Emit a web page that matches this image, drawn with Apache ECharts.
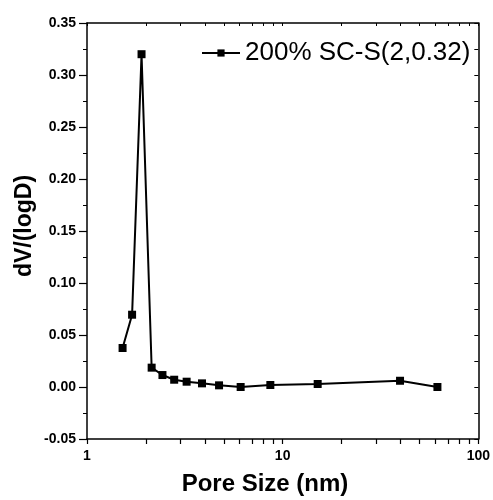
<!DOCTYPE html>
<html>
<head>
<meta charset="utf-8">
<script src="https://cdn.jsdelivr.net/npm/echarts@6/dist/echarts.min.js"></script>
<style>html,body{margin:0;padding:0;background:#fff}#c{width:493px;height:500px}</style>
</head>
<body>
<div id="c"></div>
<script>
var seriesName = '200% SC-S(2,0.32)';
var poreSize = [1.52, 1.70, 1.90, 2.14, 2.43, 2.79, 3.23, 3.87, 4.73, 6.1, 8.65, 15.1, 39.8, 61.8];
var dVlogD = [0.0375, 0.0695, 0.320, 0.0186, 0.0115, 0.0070, 0.0051, 0.0035, 0.0016, 0.0, 0.0019, 0.0029, 0.0060, 0.0];
var xAllTicks = [1, 2, 3, 4, 5, 6, 7, 8, 9, 10, 20, 30, 40, 50, 60, 70, 80, 90, 100];
var xTitle = 'Pore Size (nm)';
var yTitle = 'dV/(logD)';

var FONT = '"Liberation Sans", Arial, sans-serif';
var chart = echarts.init(document.getElementById('c'), null, {renderer: 'canvas'});
var lineCol = '#000';
function axLine() { return {show: true, onZero: false, lineStyle: {color: lineCol, width: 1.5}}; }

chart.setOption({
  animation: false,
  backgroundColor: '#fff',
  grid: {left: 87, top: 23, right: 11, bottom: 61, containLabel: false},
  legend: {
    show: true, left: 201, top: 40, padding: 0,
    itemWidth: 38, itemHeight: 9, itemGap: 5,
    textStyle: {fontFamily: FONT, fontSize: 26, color: '#000'},
    data: [seriesName]
  },
  xAxis: [
    {
      type: 'log', logBase: 10, min: 1, max: 100, position: 'bottom',
      axisLine: axLine(),
      axisTick: {show: true, inside: false, length: 5, customValues: xAllTicks, lineStyle: {color: lineCol, width: 1.2}},
      minorTick: {show: false},
      splitLine: {show: false},
      axisLabel: {show: true, margin: 10, fontFamily: FONT, fontWeight: 'bold', fontSize: 14, color: '#000'}
    },
    {
      type: 'log', logBase: 10, min: 1, max: 100, position: 'top',
      axisLine: axLine(),
      axisTick: {show: true, inside: true, length: 3, customValues: xAllTicks, lineStyle: {color: lineCol, width: 1}},
      splitLine: {show: false},
      axisLabel: {show: false}
    }
  ],
  yAxis: [
    {
      type: 'value', min: -0.05, max: 0.35, interval: 0.05, position: 'left',
      axisLine: axLine(),
      axisTick: {show: true, inside: false, length: 8, lineStyle: {color: lineCol, width: 1.2}},
      minorTick: {show: true, splitNumber: 2, length: 4, lineStyle: {color: lineCol, width: 1}},
      splitLine: {show: false},
      axisLabel: {show: true, margin: 11, fontFamily: FONT, fontWeight: 'bold', fontSize: 14, color: '#000',
        formatter: function (v) { return v.toFixed(2); }}
    },
    {
      type: 'value', min: -0.05, max: 0.35, interval: 0.025, position: 'right',
      axisLine: axLine(),
      axisTick: {show: true, inside: true, length: 4, lineStyle: {color: lineCol, width: 1}},
      splitLine: {show: false},
      axisLabel: {show: false}
    }
  ],
  graphic: [
    {type: 'text', position: [265, 484],
      style: {text: xTitle, fill: '#000', font: 'bold 24px ' + FONT, textAlign: 'center', textVerticalAlign: 'middle'}},
    {type: 'text', rotation: Math.PI / 2, position: [25, 226],
      style: {text: yTitle, fill: '#000', font: 'bold 23px ' + FONT, textAlign: 'center', textVerticalAlign: 'middle'}}
  ],
  series: [{
    name: seriesName,
    type: 'line',
    xAxisIndex: 0, yAxisIndex: 0,
    data: poreSize.map(function (x, i) { return [x, dVlogD[i]]; }),
    symbol: 'rect', symbolSize: 8, showSymbol: true,
    lineStyle: {color: '#000', width: 2},
    itemStyle: {color: '#000'}
  }]
});
</script>
</body>
</html>
